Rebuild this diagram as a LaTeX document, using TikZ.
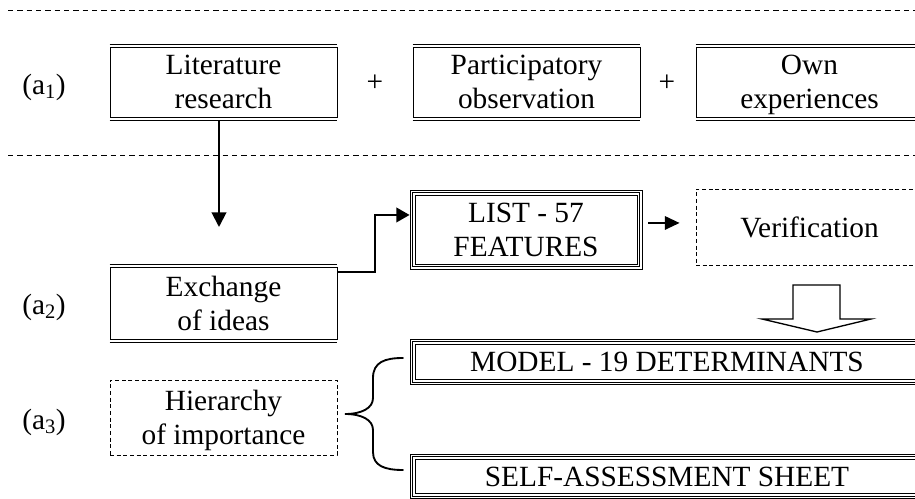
\documentclass[tikz,border=0pt]{standalone}
\usepackage{fontspec}
\setmainfont{Liberation Serif}
\usetikzlibrary{arrows.meta,calc}
\newcommand\fs{\fontsize{22}{25.5}\selectfont}
\begin{document}
\begin{tikzpicture}[x=0.75pt,y=-0.75pt,
  txt/.style={inner sep=0pt, align=center, font=\fs},
  frame/.style={line width=0.6pt},
  boxtxt/.style={txt, text depth=0pt},
  dblbox/.style={boxtxt, draw, frame, minimum width=227*0.75pt, minimum height=69.5*0.75pt},
  tribox/.style={boxtxt, draw, frame},
  dashbox/.style={boxtxt, draw, frame, dash pattern=on 3pt off 2pt, minimum width=227*0.75pt},
  sepline/.style={line width=0.6pt, dash pattern=on 4pt off 3pt},
  arr/.style={line width=1.5pt, -{Triangle[length=11pt,width=11pt]}},
  arrb/.style={line width=1.5pt, -{Triangle[length=10pt,width=11pt]}},
  arrc/.style={line width=1.5pt, -{Triangle[length=11pt,width=10pt]}},
  bracestyle/.style={line width=1.4pt, line cap=round},
  blockarrow/.style={line width=1pt, fill=white, line join=miter}
]
\useasboundingbox (0,0) rectangle (915,499);
\clip (0,0) rectangle (915,499);

% separator lines
\draw[sepline] (8,10) -- (915,10);
\draw[sepline] (8,155) -- (915,155);

% row a1
\node[txt] (a1) at (44,87) {(a\textsubscript{1})};
\node[dblbox] (lit) at (223.5,82.25) {Literature\\research};
\node[txt] (p1) at (375,83) {+};
\node[dblbox] (par) at (526.5,82.25) {Participatory\\observation};
\node[txt] (p2) at (667,83) {+};
\node[dblbox] (own) at (809.5,82.25) {Own\\experiences};

% row a2
\node[txt] (a2) at (44,307) {(a\textsubscript{2})};
\node[dblbox, minimum height=71.6*0.75pt] (exch) at (223.5,303.5) {Exchange\\of ideas};
\node[tribox, minimum width=232*0.75pt, minimum height=79*0.75pt] (list) at (526,229.5) {LIST - 57\\FEATURES};
\node[dashbox, minimum height=76*0.75pt] (verif) at (809.5,227) {Verification};

% row a3
\node[txt] (a3) at (44,422) {(a\textsubscript{3})};
\node[dashbox, minimum height=75*0.75pt] (hier) at (223.5,417.5) {Hierarchy\\of importance};
\node[tribox, minimum width=514*0.75pt, minimum height=45*0.75pt] (model) at (667,362) {MODEL - 19 DETERMINANTS};
\node[tribox, minimum width=514*0.75pt, minimum height=44*0.75pt] (self) at (667,476.5) {SELF-ASSESSMENT SHEET};

% double top/bottom lines
\foreach \n in {lit,par,own,exch}{
  \draw[frame] ([yshift=2pt]\n.north west) -- ([yshift=2pt]\n.north east);
  \draw[frame] ([yshift=-2pt]\n.south west) -- ([yshift=-2pt]\n.south east);
}
% triple frames
\foreach \n in {list,model,self}{
  \draw[frame] ([shift={(1.9pt,-1.9pt)}]\n.north west) rectangle ([shift={(-1.9pt,1.9pt)}]\n.south east);
  \draw[frame] ([shift={(4.1pt,-4.1pt)}]\n.north west) rectangle ([shift={(-4.1pt,4.1pt)}]\n.south east);
}

% connectors
\coordinate (arrend) at (219,227);
\draw[arr] ([yshift=-2pt]arrend |- lit.south) -- (arrend);
\draw[arrb] ([yshift=-3.2pt]exch.north east) -- ++(38,0) |- ([yshift=10.9pt]list.west);
\draw[arrc, shorten <=4.5pt, shorten >=12pt] ([yshift=4.9pt]list.east) -- ([yshift=4.9pt]list.east -| verif.west);

% block arrow
\draw[blockarrow] (793,285) -- (840,285) -- (840,319) -- (871,319) -- (817,332) -- (762,319) -- (793,319) -- cycle;

% brace
\draw[bracestyle] (403,358) .. controls (385,358) and (373,362) .. (373,378) -- (373,398)
  .. controls (373,408) and (362,414) .. (345,414)
  .. controls (362,414) and (373,420) .. (373,430) -- (373,452)
  .. controls (373,466) and (385,470) .. (403,470);
\end{tikzpicture}
\end{document}
